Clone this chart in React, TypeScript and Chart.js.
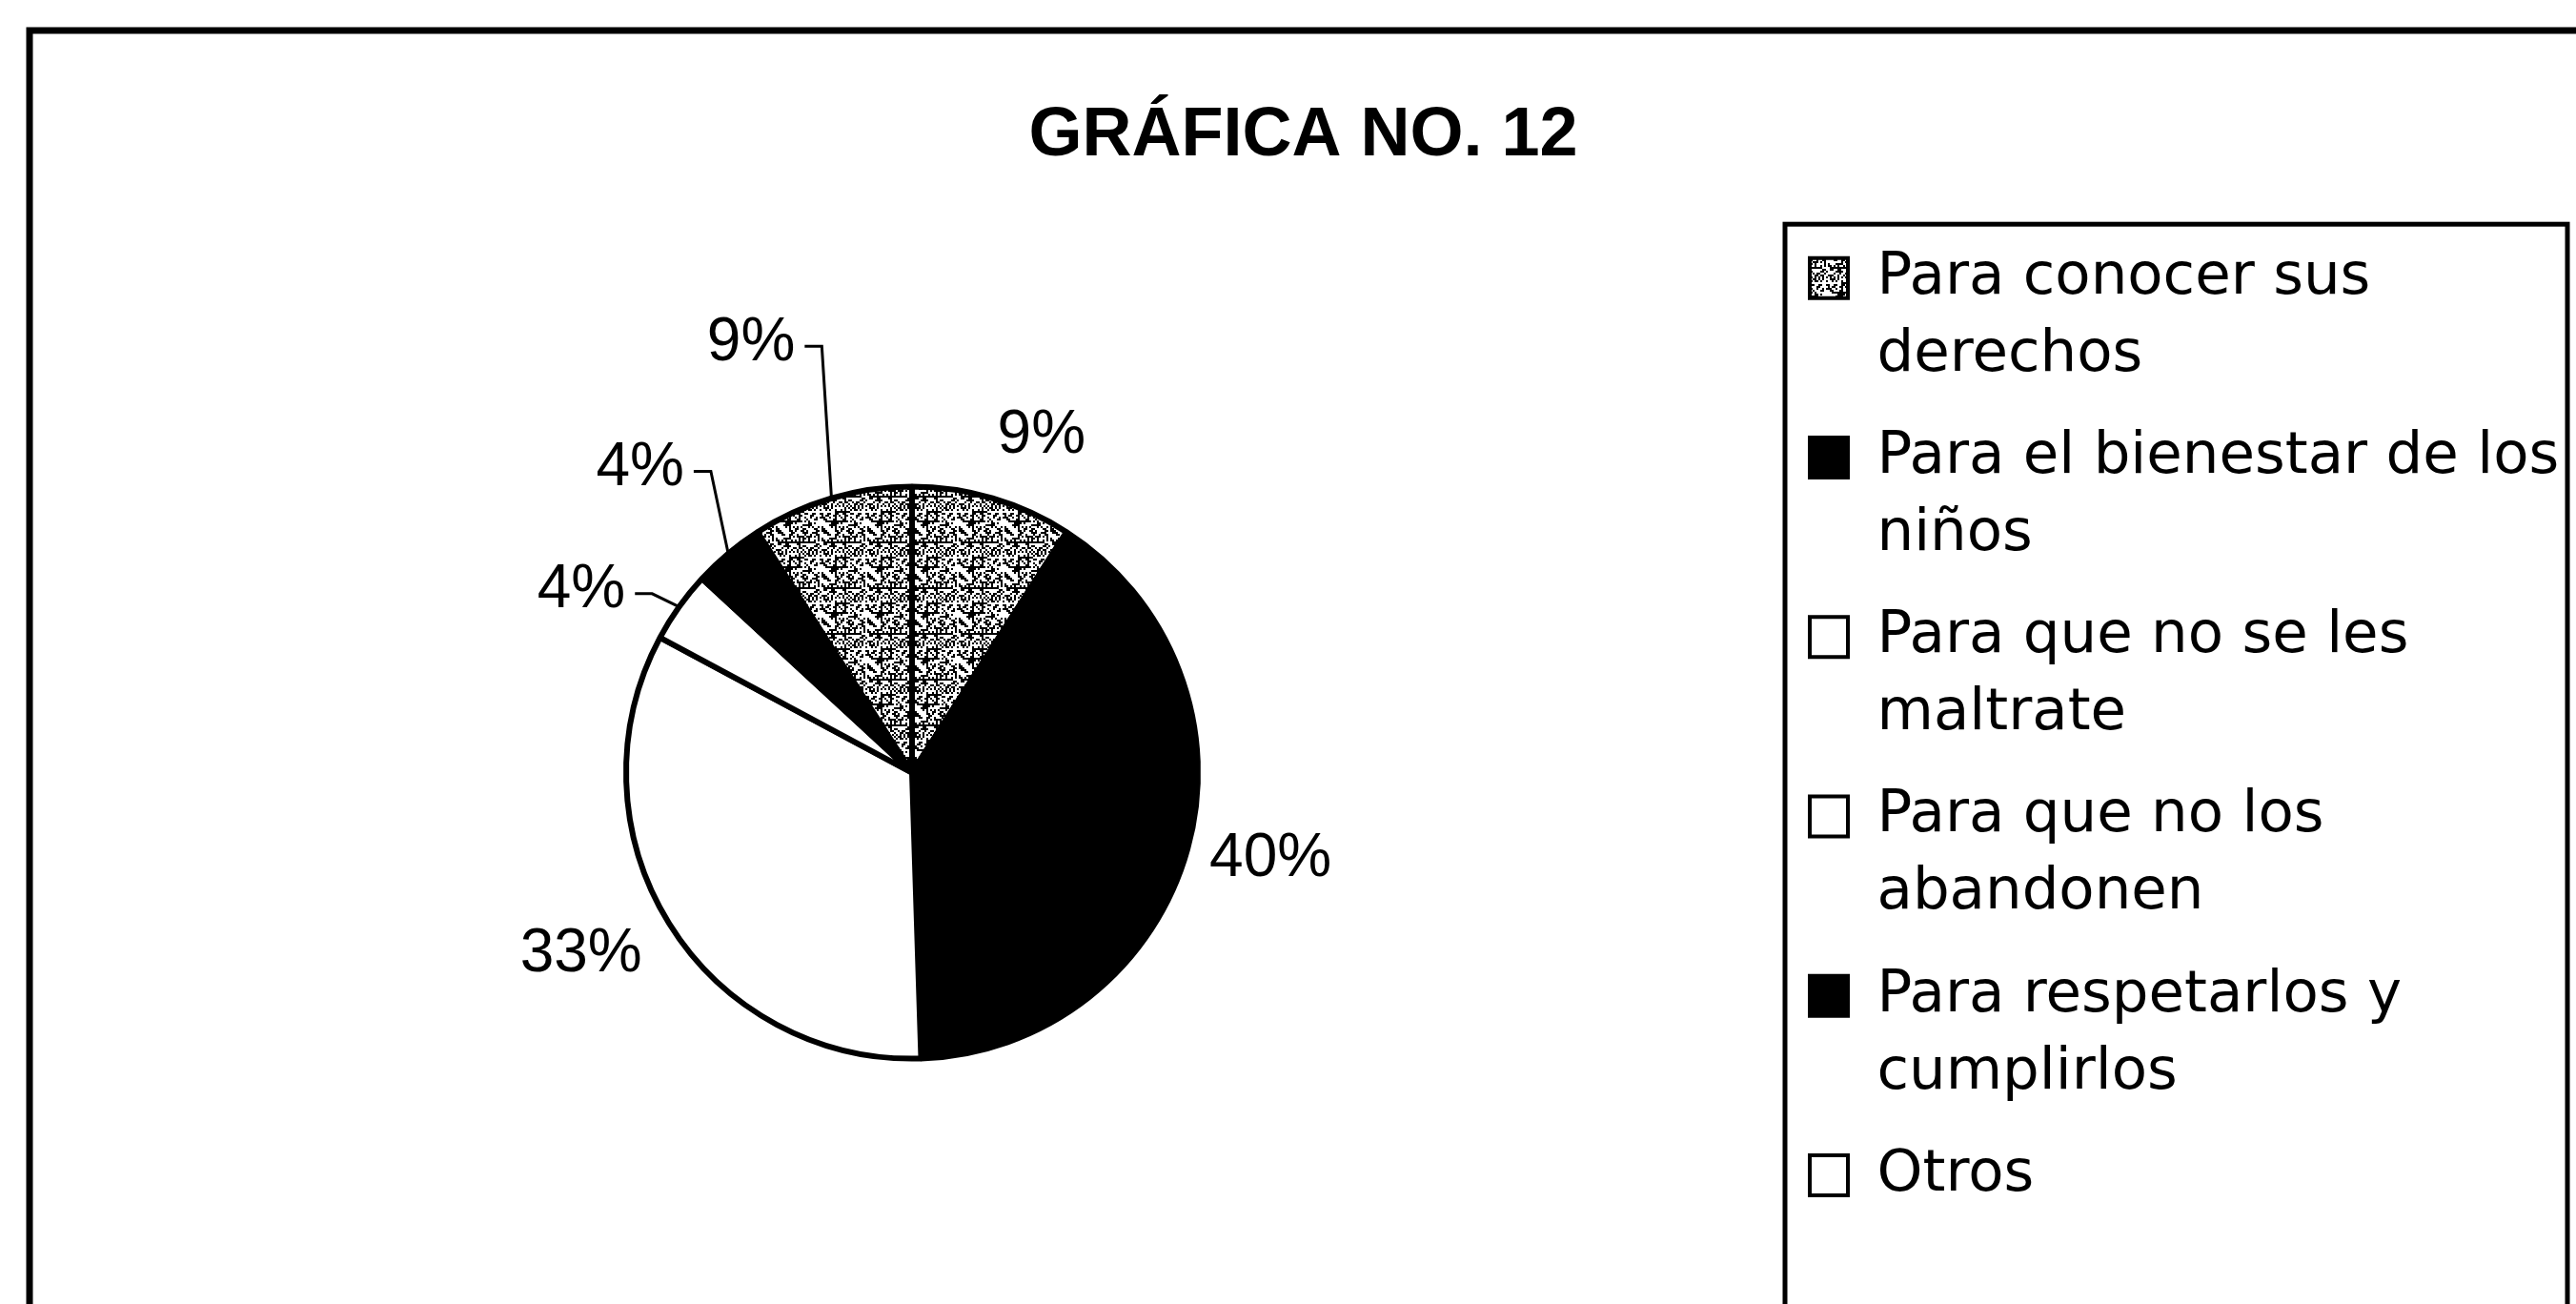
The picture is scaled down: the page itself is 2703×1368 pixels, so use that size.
import React, { useEffect, useRef } from 'react';
import { Chart, registerables } from 'chart.js';

Chart.register(...registerables);

// ---------- data ----------
const TITLE = 'GRÁFICA NO. 12';
const CATEGORIES = [
  'Para conocer sus derechos',
  'Para el bienestar de los niños',
  'Para que no se les maltrate',
  'Para que no los abandonen',
  'Para respetarlos y cumplirlos',
  'Otros',
];
const LEGEND_LINES = [
  ['Para conocer sus', 'derechos'],
  ['Para el bienestar de los', 'niños'],
  ['Para que no se les', 'maltrate'],
  ['Para que no los', 'abandonen'],
  ['Para respetarlos y', 'cumplirlos'],
  ['Otros'],
];
const VALUES = [9, 40, 33, 4, 4, 9];

// ---------- style ----------
const W = 2703;
const H = 1368;
const CANVAS_H = 1386; // chart drawn slightly taller than the page; the frame runs off the bottom edge
const SLICE_FILLS = ['stipple', '#000', '#fff', '#fff', '#000', 'stipple'];
const LEGEND_FILLS = ['stipple', '#000', '#fff', '#fff', '#000', '#fff'];
const LABEL_RADIUS = [1.26, 1.29, 1.32, 1.32, 1.427, 1.603];
const LABEL_SHIFT_DEG = [4.7, -1.85, 3.1, -6.65, -1.8, -4.2];
const LEADER = [false, false, false, true, true, true];

function makeStipple(): CanvasPattern | string {
  const c = document.createElement('canvas');
  const n = 24;
  const cell = 2;
  c.width = n * cell;
  c.height = n * cell;
  const g = c.getContext('2d');
  if (!g) return '#999';
  g.fillStyle = '#fff';
  g.fillRect(0, 0, c.width, c.height);
  g.fillStyle = '#000';
  for (let i = 0; i < n; i++) {
    for (let j = 0; j < n; j++) {
      const h = (i * 37 + j * 91 + i * j * 13 + ((i ^ j) * 7)) % 19;
      if (h < 8) g.fillRect(i * cell, j * cell, cell, cell);
    }
  }
  return g.createPattern(c, 'repeat') || '#999';
}

export default function App() {
  const ref = useRef<HTMLCanvasElement>(null);

  useEffect(() => {
    const canvas = ref.current;
    if (!canvas) return;
    const stipple = makeStipple();
    const fill = (k: string) => (k === 'stipple' ? stipple : k);

    const framePlugin = {
      id: 'frame',
      afterDraw(chart: any) {
        const ctx = chart.ctx;
        ctx.save();
        ctx.strokeStyle = '#000';
        ctx.lineWidth = 7;
        ctx.strokeRect(31, 32, W + 20, CANVAS_H + 40);
        const lg = chart.legend;
        ctx.lineWidth = 5;
        ctx.strokeRect(lg.left, lg.top, lg.right - lg.left, lg.bottom - lg.top + 60);
        ctx.restore();
      },
    };

    const labelPlugin = {
      id: 'pctLabels',
      afterDatasetsDraw(chart: any) {
        const ctx = chart.ctx;
        const meta = chart.getDatasetMeta(0);
        ctx.save();
        ctx.font = '64px "Liberation Sans"';
        ctx.fillStyle = '#000';
        ctx.strokeStyle = '#000';
        ctx.lineWidth = 3;
        ctx.textAlign = 'center';
        ctx.textBaseline = 'middle';
        meta.data.forEach((arc: any, i: number) => {
          const { x, y, startAngle, endAngle, outerRadius } = arc.getProps(
            ['x', 'y', 'startAngle', 'endAngle', 'outerRadius'],
            true
          );
          const mid = (startAngle + endAngle) / 2;
          const a = mid + (LABEL_SHIFT_DEG[i] * Math.PI) / 180;
          const lx = x + Math.cos(a) * outerRadius * LABEL_RADIUS[i];
          const ly = y + Math.sin(a) * outerRadius * LABEL_RADIUS[i];
          const text = VALUES[i] + '%';
          ctx.fillText(text, lx, ly);
          if (LEADER[i]) {
            const tw = ctx.measureText(text).width;
            const sx = lx + tw / 2 + 10;
            const ex = x + Math.cos(mid) * outerRadius;
            const ey = y + Math.sin(mid) * outerRadius;
            ctx.beginPath();
            ctx.moveTo(sx, ly + 3);
            ctx.lineTo(sx + 18, ly + 3);
            ctx.lineTo(ex, ey);
            ctx.stroke();
          }
        });
        ctx.restore();
      },
    };

    const chart = new Chart(canvas, {
      type: 'pie',
      data: {
        labels: CATEGORIES,
        datasets: [
          {
            data: VALUES,
            backgroundColor: SLICE_FILLS.map(fill) as any,
            borderColor: '#000',
            borderWidth: 6,
          },
        ],
      },
      options: {
        responsive: false,
        maintainAspectRatio: false,
        animation: false,
        events: [],
        radius: 300,
        layout: { padding: { left: 41, right: 9, top: 20, bottom: 0 } },
        plugins: {
          title: {
            display: true,
            text: TITLE,
            color: '#000',
            font: { family: 'Liberation Sans', size: 72, weight: 'bold', lineHeight: 1.2 },
            padding: { top: 79.8, bottom: 49.0 },
          },
          legend: {
            display: true,
            position: 'right',
            align: 'start',
            fullSize: false,
            maxWidth: 821,
            labels: {
              boxWidth: 40,
              boxHeight: 42,
              padding: 26,
              color: '#000',
              font: { family: 'DejaVu Sans', size: 61, lineHeight: 1.33 },
              generateLabels: () =>
                LEGEND_LINES.map((lines, i) => ({
                  text: lines as any,
                  fillStyle: fill(LEGEND_FILLS[i]) as any,
                  strokeStyle: '#000',
                  lineWidth: 4,
                  hidden: false,
                  index: i,
                  fontColor: '#000',
                })),
            },
          },
          tooltip: { enabled: false },
        },
      } as any,
      plugins: [framePlugin, labelPlugin],
    });

    return () => chart.destroy();
  }, []);

  return (
    <div
      style={{
        position: 'absolute',
        left: 0,
        top: 0,
        width: W,
        height: H,
        overflow: 'hidden',
        background: '#fff',
      }}
    >
      <canvas ref={ref} width={W} height={CANVAS_H} style={{ display: 'block' }} />
    </div>
  );
}
